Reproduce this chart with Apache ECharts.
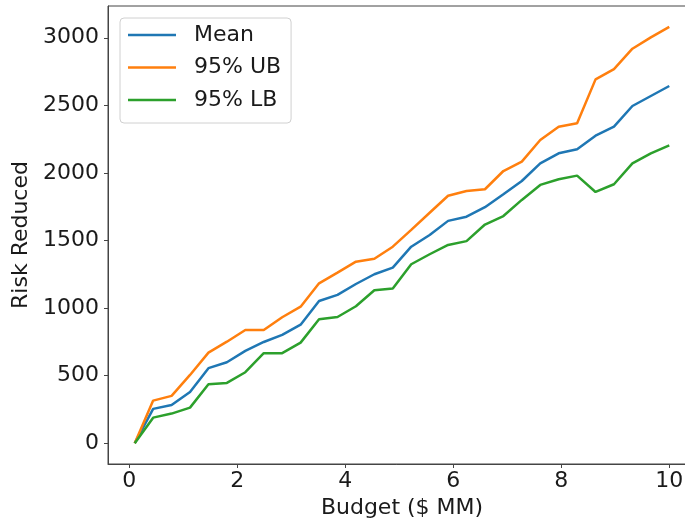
<!DOCTYPE html>
<html>
<head>
<meta charset="utf-8">
<script src="https://cdn.jsdelivr.net/npm/echarts@6/dist/echarts.min.js"></script>
<style>
  html, body { margin: 0; padding: 0; background: #fff; }
  #chart { width: 685px; height: 518px; }
</style>
</head>
<body>
<div id="chart"></div>
<script>
// Budget levels ($ MM) and risk reduced at each level
const budget = [0.1, 0.4414, 0.7828, 1.1241, 1.4655, 1.8069, 2.1483, 2.4897, 2.8310, 3.1724,
                3.5138, 3.8552, 4.1966, 4.5379, 4.8793, 5.2207, 5.5621, 5.9034, 6.2448, 6.5862,
                6.9276, 7.2690, 7.6103, 7.9517, 8.2931, 8.6345, 8.9759, 9.3172, 9.6586, 10.0];
const meanRisk = [0, 254, 283, 379, 555, 599, 683, 749, 801, 877,
                  1052, 1097, 1178, 1250, 1299, 1454, 1541, 1645, 1676, 1746,
                  1842, 1940, 2071, 2145, 2175, 2275, 2342, 2495, 2569, 2643];
const upperRisk = [0, 315, 350, 505, 670, 751, 838, 838, 932, 1010,
                   1183, 1262, 1343, 1365, 1454, 1578, 1705, 1831, 1866, 1879,
                   2014, 2083, 2243, 2342, 2367, 2692, 2768, 2919, 3003, 3081];
const lowerRisk = [0, 189, 219, 263, 436, 446, 525, 666, 666, 744,
                   917, 934, 1013, 1132, 1144, 1324, 1398, 1467, 1495, 1618,
                   1681, 1800, 1911, 1953, 1980, 1859, 1916, 2071, 2145, 2204];
const seriesNames = ['Mean', '95% UB', '95% LB'];
const xTicks = [0, 2, 4, 6, 8, 10];
const yTicks = [0, 500, 1000, 1500, 2000, 2500, 3000];

const colors = ['#1f77b4', '#ff7f0e', '#2ca02c'];
const font = 'DejaVu Sans';
const textColor = '#1a1a1a';
const pair = (ys) => budget.map((x, i) => [x, ys[i]]);

const chart = echarts.init(document.getElementById('chart'), null, { renderer: 'canvas' });
chart.setOption({
  animation: false,
  backgroundColor: '#ffffff',
  color: colors,
  grid: {
    left: 108, top: 6, width: 588, height: 458,
    show: true, borderColor: '#444', borderWidth: 1,
    containLabel: false, outerBoundsMode: 'none'
  },
  legend: {
    left: 120, top: 18,
    orient: 'vertical',
    data: seriesNames,
    icon: 'rect',
    itemWidth: 48, itemHeight: 2.5,
    itemGap: 10.5,
    padding: [6, 10, 12, 8],
    backgroundColor: 'rgba(255,255,255,0.8)',
    borderColor: '#d0d0d0', borderWidth: 1, borderRadius: 4,
    formatter: (name) => '{t|' + name + '}',
    textStyle: {
      fontFamily: font, fontSize: 22, color: textColor,
      rich: { t: { fontFamily: font, fontSize: 22, color: textColor, padding: [0, 0, 0, 13] } }
    }
  },
  xAxis: {
    type: 'value',
    min: -0.395, max: 10.495,
    name: 'Budget ($ MM)',
    nameLocation: 'middle', nameGap: 25,
    nameTextStyle: { fontFamily: font, fontSize: 22, color: textColor },
    axisLine: { show: true, onZero: false, lineStyle: { color: '#444', width: 1 } },
    axisTick: { show: true, length: 4, customValues: xTicks, lineStyle: { color: '#444' } },
    axisLabel: { customValues: xTicks, margin: 6, fontFamily: font, fontSize: 22, color: textColor,
                 formatter: (v) => String(v) },
    splitLine: { show: false }
  },
  yAxis: {
    type: 'value',
    min: -154, max: 3235,
    name: 'Risk Reduced',
    nameLocation: 'middle', nameGap: 70, nameRotate: 90,
    nameTextStyle: { fontFamily: font, fontSize: 22, color: textColor },
    axisLine: { show: true, onZero: false, lineStyle: { color: '#444', width: 1 } },
    axisTick: { show: true, length: 4, customValues: yTicks, lineStyle: { color: '#444' } },
    axisLabel: { customValues: yTicks, margin: 9, fontFamily: font, fontSize: 22, color: textColor,
                 formatter: (v) => String(v) },
    splitLine: { show: false }
  },
  series: [
    { name: seriesNames[0], type: 'line', data: pair(meanRisk), showSymbol: false, lineStyle: { width: 2.5, color: colors[0] }, z: 2 },
    { name: seriesNames[1], type: 'line', data: pair(upperRisk), showSymbol: false, lineStyle: { width: 2.5, color: colors[1] }, z: 3 },
    { name: seriesNames[2], type: 'line', data: pair(lowerRisk), showSymbol: false, lineStyle: { width: 2.5, color: colors[2] }, z: 4 }
  ]
});
</script>
</body>
</html>
